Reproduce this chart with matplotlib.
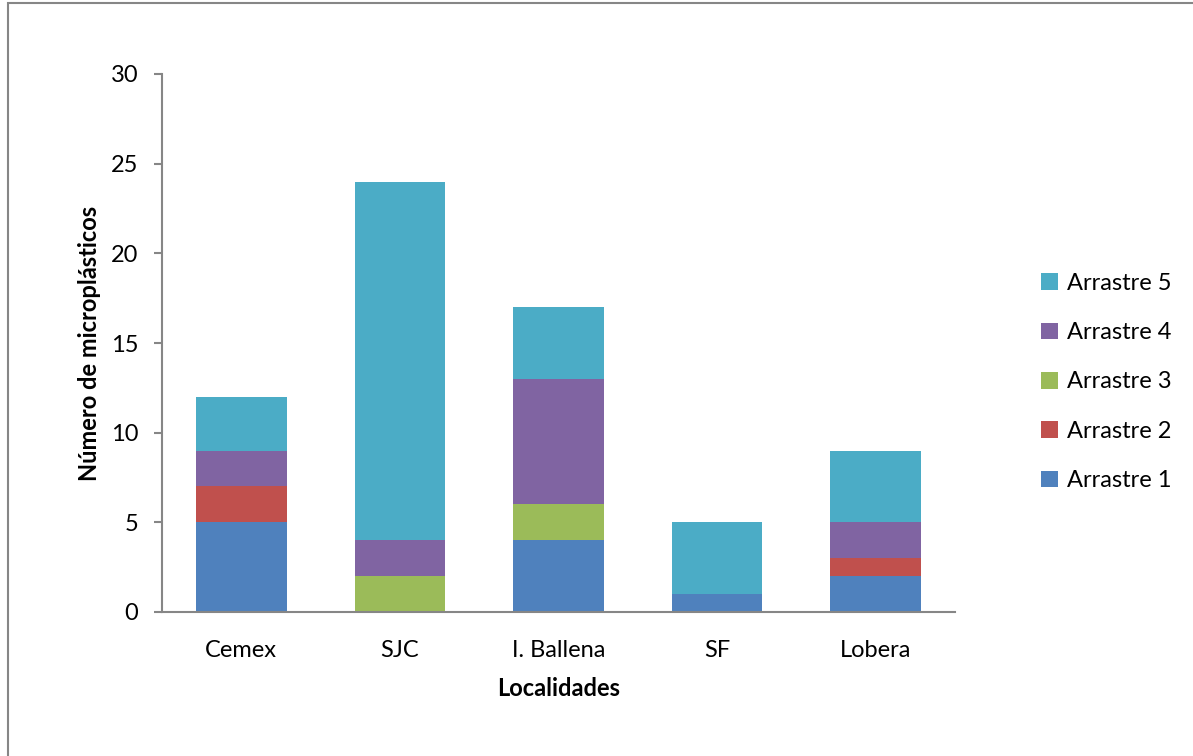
import matplotlib
matplotlib.use("Agg")
import matplotlib.pyplot as plt
from matplotlib.patches import Rectangle
import numpy as np

plt.rcParams['font.family'] = ['Lato', 'DejaVu Sans']

localidades = ["Cemex", "SJC", "I. Ballena", "SF", "Lobera"]
series_names = ["Arrastre 1", "Arrastre 2", "Arrastre 3", "Arrastre 4", "Arrastre 5"]
arrastre_1 = [5, 0, 4, 1, 2]
arrastre_2 = [2, 0, 0, 0, 1]
arrastre_3 = [0, 2, 2, 0, 0]
arrastre_4 = [2, 2, 7, 0, 2]
arrastre_5 = [3, 20, 4, 4, 4]
colores = ["#4F81BD", "#C0504D", "#9BBB59", "#8064A2", "#4BACC6"]

W, H = 1193, 756
fig = plt.figure(figsize=(W / 100, H / 100), dpi=100)

# chart frame (only left and top edges fall inside the image)
fig.patches.append(Rectangle((8 / W, -0.5), 1.5, 1.5 - 3 / H, transform=fig.transFigure,
                             fill=False, edgecolor="#868686", linewidth=1.5))

ax = fig.add_axes([162 / W, 1 - 612 / H, (955 - 162) / W, (612 - 74) / H])

x = np.arange(len(localidades))
bottom = np.zeros(len(localidades))
handles = []
for nombre, vals, c in zip(series_names,
                           [arrastre_1, arrastre_2, arrastre_3, arrastre_4, arrastre_5],
                           colores):
    b = ax.bar(x, vals, width=0.57, bottom=bottom, color=c, label=nombre,
               edgecolor="none")
    handles.append(b)
    bottom += np.array(vals)

ax.set_xlim(-0.5, len(localidades) - 0.5)
ax.set_ylim(0, 30)
ax.set_yticks(np.arange(0, 31, 5))
ax.set_xticks(x)
ax.set_xticklabels(localidades)

for s in ["top", "right"]:
    ax.spines[s].set_visible(False)
for s in ["left", "bottom"]:
    ax.spines[s].set_color("#868686")
    ax.spines[s].set_linewidth(1.5)

ax.tick_params(axis="y", length=6, width=1.5, color="#868686", labelsize=17, pad=11)
ax.tick_params(axis="x", length=0, labelsize=17, pad=20)

ax.set_xlabel("Localidades", fontsize=17, fontweight="bold", labelpad=12)
ax.set_ylabel("Número de microplásticos", fontsize=17, fontweight="bold", labelpad=7)

leg = fig.legend(handles[::-1], series_names[::-1], loc="center left",
                 bbox_to_anchor=(1020 / W, 1 - 382 / H), frameon=False,
                 fontsize=17, handlelength=0.7, handleheight=0.7,
                 handletextpad=0.4, labelspacing=1.2)

fig.savefig("out.png", dpi=100)
